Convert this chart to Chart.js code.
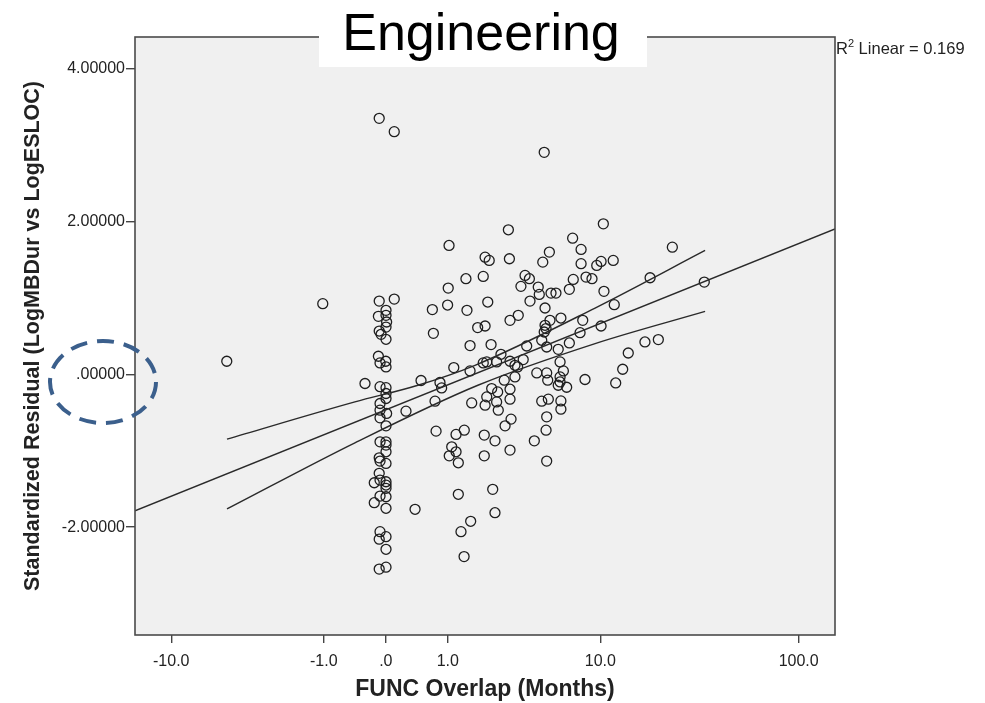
<!DOCTYPE html>
<html>
<head>
<meta charset="utf-8">
<script src="https://cdn.jsdelivr.net/npm/chart.js@4.4.0/dist/chart.umd.min.js"></script>
<style>
  html, body { margin: 0; padding: 0; background: #fff; }
  #wrap { width: 985px; height: 703px; position: relative; }
</style>
</head>
<body>
<div id="wrap"><canvas id="residChart"></canvas></div>
<script>
// x is the plotted axis position: sign(m) * log10(1 + |m|), m = overlap in months
const overlapPos = [
  -0.032, 0.041, 0.769, -0.772, -0.306, -0.101, 0.307, 0.389, 0.303, 0.041,
  -0.032, 0.226, 0.300, 0.394, 0.001, -0.036, 0.001, 0.004, 0.001, -0.032,
  -0.023, 0.001, 0.231, 0.446, 0.409, -0.036, 0.000, -0.028, 0.001, 0.330,
  0.409, 0.171, 0.263, 0.271, -0.028, 0.001, 0.001, 0.001, -0.028, -0.028,
  0.004, -0.028, 0.001, 0.098, 0.239, 0.417, 0.244, 0.341, 0.381, 0.320,
  0.341, 0.308, 0.352, -0.028, 0.001, 0.001, 0.001, -0.032, -0.028, 0.001,
  -0.032, -0.056, -0.028, 0.001, 0.001, 0.001, -0.028, 0.001, -0.056, 0.001,
  0.142, 0.352, 0.412, 0.365, -0.028, -0.032, 0.001, 0.001, 0.380, -0.032,
  0.001, 0.595, 0.907, 0.948, 0.794, 0.762, 0.482, 0.502, 0.600, 0.948,
  1.024, 1.045, 0.473, 0.676, 0.697, 0.910, 0.972, 1.001, 0.656, 0.740,
  0.745, 0.802, 0.826, 0.891, 1.059, 0.700, 0.495, 0.773, 0.643, 0.603,
  0.482, 0.773, 0.778, 0.769, 0.850, 0.797, 0.956, 1.045, 0.943, 0.757,
  0.891, 0.511, 0.684, 0.781, 0.837, 0.559, 0.667, 0.473, 0.490, 0.538,
  0.603, 0.627, 0.640, 0.846, 0.862, 0.733, 0.781, 0.786, 0.846, 0.846,
  0.837, 0.627, 0.575, 0.967, 0.878, 0.514, 0.543, 0.603, 0.490, 0.538,
  0.482, 0.603, 0.546, 0.757, 0.789, 0.850, 0.850, 0.781, 0.608, 0.579,
  0.478, 0.530, 0.778, 0.721, 0.603, 0.478, 0.781, 0.519, 0.530, 1.056,
  1.391, 1.104, 1.283, 1.546, 1.109, 1.323, 1.258, 1.177, 1.150, 1.116
];
const residuals = [
  3.346, 3.172, 2.902, 0.170, 0.923, -0.121, 1.684, 1.249, 1.127, 0.983,
  0.957, 0.845, 0.905, 0.836, 0.836, 0.757, 0.770, 0.683, 0.617, 0.565,
  0.522, 0.457, 0.535, 0.610, 0.375, 0.235, 0.170, 0.148, 0.095, 0.087,
  0.043, -0.082, -0.108, -0.179, -0.163, -0.176, -0.252, -0.317, -0.383, -0.470,
  -0.513, -0.570, -0.675, -0.483, -0.352, -0.375, -0.744, -0.787, -0.731, -0.949,
  -1.014, -1.067, -1.158, -0.884, -0.884, -0.927, -1.014, -1.093, -1.136, -1.166,
  -1.296, -1.419, -1.384, -1.406, -1.449, -1.492, -1.593, -1.602, -1.680, -1.753,
  -1.766, -1.570, -1.923, -2.059, -2.059, -2.157, -2.124, -2.289, -2.385, -2.548,
  -2.523, 1.889, 1.779, 1.632, 1.597, 1.466, 1.531, 1.488, 1.510, 1.446,
  1.423, 1.475, 1.279, 1.292, 1.249, 1.240, 1.270, 1.249, 1.149, 1.140,
  1.044, 1.061, 1.061, 1.110, 1.084, 0.957, 0.944, 0.866, 0.770, 0.705,
  0.631, 0.640, 0.597, 0.552, 0.735, 0.705, 0.705, 0.631, 0.544, 0.444,
  0.409, 0.388, 0.369, 0.356, 0.326, 0.261, 0.192, 0.148, 0.161, 0.161,
  0.170, 0.117, 0.095, 0.161, 0.043, 0.017, 0.017, -0.078, -0.035, -0.101,
  -0.144, -0.035, -0.078, -0.069, -0.170, -0.187, -0.231, -0.196, -0.296, -0.362,
  -0.405, -0.326, -0.470, -0.352, -0.326, -0.349, -0.457, -0.557, -0.587, -0.675,
  -0.796, -0.871, -0.731, -0.871, -0.992, -1.067, -1.136, -1.505, -1.811, 1.967,
  1.662, 1.488, 1.262, 1.205, 0.910, 0.453, 0.422, 0.278, 0.065, -0.114
];

// fit line and the two mean-confidence curves
const fitX = [-1.2175, 2.1806];
const fitY = [-1.785, 1.90];
const upperX = [-0.771, -0.150, 0.156, 0.433, 1.016, 1.550];
const upperY = [-0.849, -0.362, -0.144, 0.117, 0.866, 1.619];
const lowerX = [-0.771, -0.150, 0.447, 1.016, 1.550];
const lowerY = [-1.762, -0.897, -0.144, 0.401, 0.822];

const xTickMonths = [-10, -1, 0, 1, 10, 100];
const xTickLabels = ['-10.0', '-1.0', '.0', '1.0', '10.0', '100.0'];
const yTickValues = [-2, 0, 2, 4];
const yTickLabels = ['-2.00000', '.00000', '2.00000', '4.00000'];

function symLog(m) { return Math.sign(m) * Math.log10(1 + Math.abs(m)); }
const toPts = (xs, ys) => xs.map((x, i) => ({ x: x, y: ys[i] }));

const FONT = "'Liberation Sans', Arial, sans-serif";
const INK = '#222';

const sketchPlugin = {
  id: 'sketch',
  beforeDraw(chart) {
    const { ctx, chartArea: a } = chart;
    ctx.save();
    ctx.fillStyle = '#f0f0f0';
    ctx.fillRect(a.left, a.top, a.right - a.left, a.bottom - a.top);
    ctx.restore();
  },
  afterDraw(chart) {
    const { ctx, chartArea: a } = chart;
    ctx.save();
    // frame
    ctx.strokeStyle = '#4a4a4a';
    ctx.lineWidth = 1.6;
    ctx.strokeRect(a.left, a.top, a.right - a.left, a.bottom - a.top);

    // title in its white box
    ctx.fillStyle = '#fff';
    ctx.fillRect(319, 0, 328, 67);
    ctx.fillStyle = '#000';
    ctx.font = '52px ' + FONT;
    ctx.textAlign = 'center';
    ctx.textBaseline = 'alphabetic';
    ctx.fillText('Engineering', 481, 50);

    // R2 label
    ctx.fillStyle = INK;
    ctx.textAlign = 'left';
    ctx.font = '16.5px ' + FONT;
    ctx.fillText('R', a.right + 1, 54);
    let w = ctx.measureText('R').width;
    ctx.font = '11px ' + FONT;
    ctx.fillText('2', a.right + 1 + w, 47);
    w += ctx.measureText('2').width;
    ctx.font = '16.5px ' + FONT;
    ctx.fillText(' Linear = 0.169', a.right + 1 + w, 54);

    // dashed callout round the zero label
    ctx.strokeStyle = '#3b5f8c';
    ctx.lineWidth = 4;
    ctx.setLineDash([17, 10]);
    ctx.beginPath();
    ctx.ellipse(103, 382, 53, 41, 0, 0, Math.PI * 2);
    ctx.stroke();
    ctx.restore();
  }
};

const lineDs = (label, xs, ys) => ({
  label: label,
  data: toPts(xs, ys),
  showLine: true,
  borderColor: '#2a2a2a',
  borderWidth: 1.4,
  pointRadius: 0,
  cubicInterpolationMode: 'monotone',
  fill: false
});

new Chart(document.getElementById('residChart'), {
  type: 'scatter',
  data: {
    datasets: [
      lineDs('fit', fitX, fitY),
      lineDs('upper', upperX, upperY),
      lineDs('lower', lowerX, lowerY),
      {
        label: 'residual',
        data: toPts(overlapPos, residuals),
        pointStyle: 'circle',
        pointRadius: 5,
        pointBorderWidth: 1.3,
        pointBorderColor: '#1e1e1e',
        pointBackgroundColor: 'rgba(0,0,0,0)',
        showLine: false
      }
    ]
  },
  options: {
    responsive: true,
    maintainAspectRatio: false,
    animation: false,
    layout: { padding: { left: 0, right: 150, top: 37, bottom: 0 } },
    plugins: {
      legend: { display: false },
      tooltip: { enabled: false }
    },
    scales: {
      x: {
        type: 'linear',
        min: -1.2175,
        max: 2.1806,
        afterBuildTicks: s => { s.ticks = xTickMonths.map(m => ({ value: symLog(m) })); },
        afterFit: s => { s.height = 68; },
        ticks: {
          callback: (v, i) => xTickLabels[i],
          font: { family: FONT, size: 16 },
          color: INK,
          padding: 9,
          autoSkip: false,
          maxRotation: 0
        },
        grid: { drawOnChartArea: false, drawTicks: true, tickLength: 8, color: '#444', lineWidth: 1.4 },
        border: { display: false },
        title: {
          display: true,
          text: 'FUNC Overlap (Months)',
          font: { family: FONT, size: 23, weight: 'bold' },
          color: INK,
          padding: { top: 0, bottom: 0 }
        }
      },
      y: {
        type: 'linear',
        min: -3.41,
        max: 4.41,
        afterBuildTicks: s => { s.ticks = yTickValues.map(v => ({ value: v })); },
        afterFit: s => { s.width = 135; },
        ticks: {
          callback: (v, i) => yTickLabels[i],
          font: { family: FONT, size: 16 },
          color: INK,
          padding: 1
        },
        grid: { drawOnChartArea: false, drawTicks: true, tickLength: 9, color: '#444', lineWidth: 1.4 },
        border: { display: false },
        title: {
          display: true,
          text: 'Standardized Residual (LogMBDur vs LogESLOC)',
          font: { family: FONT, size: 21.5, weight: 'bold' },
          color: INK,
          padding: { top: 20, bottom: 0 }
        }
      }
    }
  },
  plugins: [sketchPlugin]
});
</script>
</body>
</html>
